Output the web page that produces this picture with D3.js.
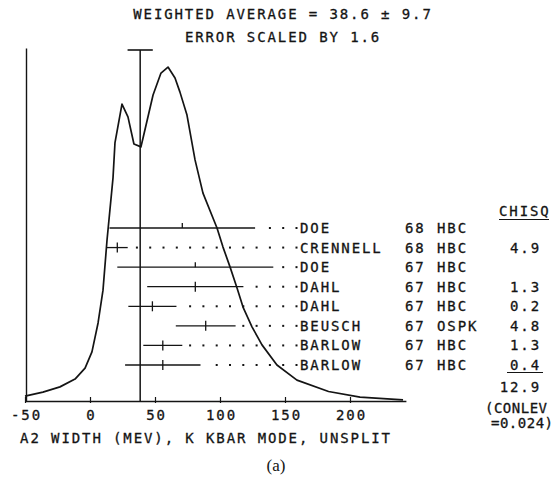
<!DOCTYPE html>
<html>
<head>
<meta charset="utf-8">
<script src="https://cdn.jsdelivr.net/npm/d3@7"></script>
<style>
  body { margin: 0; background: #fff; }
  svg { display: block; }
  .mono { font-family: "DejaVu Sans Mono", "Liberation Mono", monospace; font-size: 14px; fill: #141414;
          stroke: #141414; stroke-width: 0.3px; letter-spacing: 1.9px; }
  .tight { letter-spacing: 0.5px; }
  .cap { font-family: "Liberation Serif", "DejaVu Serif", serif; font-size: 17px; fill: #141414; }
</style>
</head>
<body>
<svg id="chart" width="553" height="491"></svg>
<script>
// Heading
const titleLines = ["WEIGHTED AVERAGE = 38.6 \u00b1 9.7", "ERROR SCALED BY 1.6"];
const average = 38.6;
const averageError = 9.7;

// Measurements (A2 width, MeV)
const authors    = ["DOE", "CRENNELL", "DOE", "DAHL", "DAHL", "BEUSCH", "BARLOW", "BARLOW"];
const years      = ["68", "68", "67", "67", "67", "67", "67", "67"];
const techniques = ["HBC", "HBC", "HBC", "HBC", "HBC", "OSPK", "HBC", "HBC"];
const values     = [71, 21, 81, 81, 48, 89, 56, 56];
const errors     = [56, 8, 60, 37, 18.5, 23, 15, 29];
const usedInFit  = [false, true, false, true, true, true, true, true];
const chisq      = ["", "4.9", "", "1.3", "0.2", "4.8", "1.3", "0.4"];
const chisqTotal = "12.9";
const conlevLines = ["(CONLEV", "=0.024)"];

// Ideogram curve (arbitrary height units)
const curveX = [-50, -36.2, -23.1, -11.5, -3.8, 1.5, 6.2, 10, 13.1, 17.7, 19.2, 24.6, 29.2, 33.8, 39.2, 40.8,
                48.5, 54.6, 60, 65.4, 69.2, 74.6, 80.8, 86.9, 97.7, 102.3, 107.7, 113.1, 117.7, 124.6, 132.3,
                143.8, 159.2, 183.5, 207.7, 240.8];
const curveY = [0.014, 0.025, 0.040, 0.062, 0.093, 0.139, 0.221, 0.314, 0.456, 0.632, 0.731, 0.841, 0.805, 0.728, 0.720, 0.745,
                0.867, 0.929, 0.946, 0.915, 0.875, 0.810, 0.683, 0.589, 0.490, 0.436, 0.380, 0.320, 0.266, 0.210, 0.159,
                0.102, 0.059, 0.027, 0.011, 0.003];

// Axis
const xTicks = [-50, 0, 50, 100, 150, 200];
const xLabel = "A2 WIDTH (MEV), K KBAR MODE, UNSPLIT";
const caption = "(a)";

const svg = d3.select("#chart");
const ink = "#141414";

const x = d3.scaleLinear().domain([-50, 243]).range([25, 405.9]);
const y = d3.scaleLinear().domain([0, 1]).range([401, 48]);
const row = d3.scalePoint().domain(d3.range(authors.length)).range([228, 365]);

// Titles
svg.selectAll("text.title").data(titleLines).join("text")
  .attr("class", "mono title")
  .attr("x", 283).attr("y", (d, i) => 19 + i * 23)
  .attr("text-anchor", "middle")
  .text(d => d);

// Bottom axis
const xAxis = d3.axisBottom(x).tickValues(xTicks).tickFormat(d => String(d))
  .tickSize(-4).tickSizeOuter(0).tickPadding(9);
const gx = svg.append("g").attr("transform", `translate(0,${y(0)})`).call(xAxis);
gx.attr("font-family", null).attr("font-size", null);
gx.select(".domain").attr("stroke", ink).attr("stroke-width", 1.4);
gx.selectAll(".tick line").attr("stroke", ink).attr("stroke-width", 1.2).attr("y2", -4).attr("y1", 2);
gx.selectAll(".tick text").attr("class", "mono").attr("fill", ink).attr("dx", 1);

// Left axis (no ticks)
const yAxis = d3.axisLeft(y).ticks(0).tickSizeOuter(0);
const gy = svg.append("g").attr("transform", `translate(${x(-50) + 1},0)`).call(yAxis);
gy.select(".domain").attr("stroke", ink).attr("stroke-width", 1.4);

// Ideogram
const pts = curveX.map((v, i) => [v, curveY[i]]);
svg.append("path")
  .attr("d", d3.line().x(d => x(d[0])).y(d => y(d[1]))(pts))
  .attr("fill", "none").attr("stroke", ink).attr("stroke-width", 1.7).attr("stroke-linejoin", "round");

// Weighted average line with its error bar on top
svg.append("line")
  .attr("x1", x(average)).attr("x2", x(average))
  .attr("y1", y(1) + 2).attr("y2", y(0))
  .attr("stroke", ink).attr("stroke-width", 1.5);
svg.append("line")
  .attr("x1", x(average - averageError)).attr("x2", x(average + averageError))
  .attr("y1", y(1) + 2).attr("y2", y(1) + 2)
  .attr("stroke", ink).attr("stroke-width", 1.6);

// Error bars, leaders and labels
const labelX = 300;
const dotStep = 13.3;
authors.forEach((name, i) => {
  const cy = row(i);
  const lo = x(values[i] - errors[i]);
  const hi = x(values[i] + errors[i]);
  const g = svg.append("g");
  g.append("line").attr("x1", lo).attr("x2", hi).attr("y1", cy).attr("y2", cy)
    .attr("stroke", ink).attr("stroke-width", 1.3);
  g.append("line").attr("x1", x(values[i])).attr("x2", x(values[i]))
    .attr("y1", cy - 5).attr("y2", usedInFit[i] ? cy + 5 : cy)
    .attr("stroke", ink).attr("stroke-width", 1.3);
  const dots = [];
  for (let dx = labelX - 3.5; dx > hi + 4; dx -= dotStep) dots.push(dx);
  g.selectAll("rect.dot").data(dots).join("rect")
    .attr("x", d => d - 1).attr("y", cy - 1).attr("width", 2).attr("height", 2).attr("fill", ink);
  g.append("text").attr("class", "mono").attr("x", labelX).attr("y", cy + 5).text(name);
  g.append("text").attr("class", "mono").attr("x", 405).attr("y", cy + 5).text(years[i]);
  g.append("text").attr("class", "mono").attr("x", 437).attr("y", cy + 5).text(techniques[i]);
  if (chisq[i]) {
    g.append("text").attr("class", "mono").attr("x", 541).attr("y", cy + 5)
      .attr("text-anchor", "end").text(chisq[i]);
  }
});

// Chi-squared column
svg.append("text").attr("class", "mono").attr("x", 499).attr("y", 216).text("CHISQ");
svg.append("line").attr("x1", 499).attr("x2", 549).attr("y1", 219.5).attr("y2", 219.5)
  .attr("stroke", ink).attr("stroke-width", 1.2);
svg.append("line").attr("x1", 507).attr("x2", 543)
  .attr("y1", row(authors.length - 1) + 7.5).attr("y2", row(authors.length - 1) + 7.5)
  .attr("stroke", ink).attr("stroke-width", 1.2);
svg.append("text").attr("class", "mono").attr("x", 541).attr("y", 392).attr("text-anchor", "end").text(chisqTotal);
svg.append("text").attr("class", "mono tight").attr("x", 485).attr("y", 413).text(conlevLines[0]);
svg.append("text").attr("class", "mono tight").attr("x", 491).attr("y", 428).text(conlevLines[1]);

// Axis title and caption
svg.append("text").attr("class", "mono").attr("x", 206).attr("y", 443).attr("text-anchor", "middle").text(xLabel);
svg.append("text").attr("class", "cap").attr("x", 276).attr("y", 471).attr("text-anchor", "middle").text(caption);
</script>
</body>
</html>
